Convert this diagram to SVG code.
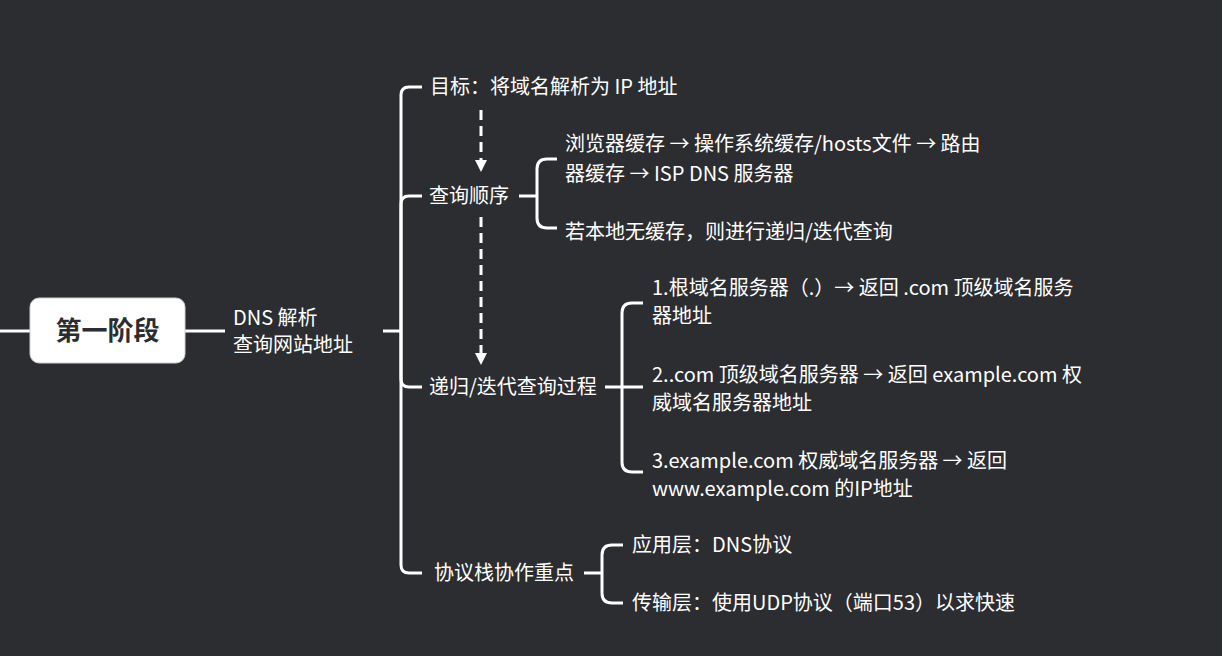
<svg xmlns="http://www.w3.org/2000/svg" width="1222" height="656" viewBox="0 0 1222 656">
<defs>
<style>
.t{font-family:"Noto Sans CJK SC","Microsoft YaHei",sans-serif;font-size:20px;fill:#ffffff}
.c{fill:none;stroke:#ffffff;stroke-width:3;stroke-linecap:butt;stroke-linejoin:round}
.d{fill:none;stroke:#ffffff;stroke-width:3;stroke-dasharray:10 6}
.root{font-family:"Noto Sans CJK SC","Microsoft YaHei",sans-serif;font-size:26px;font-weight:bold;fill:#2c2d31}
</style>
<marker id="ah" markerUnits="userSpaceOnUse" markerWidth="12" markerHeight="12" viewBox="0 0 12 12" refX="0" refY="6" orient="auto">
<path d="M0,0 L12,6 L0,12 z" fill="#ffffff"/>
</marker>
</defs>
<rect x="0" y="0" width="1222" height="656" fill="#2c2d31"/>
<g id="connectors">
<path class="c" d="M0,331 H32"/>
<path class="c" d="M184,331 H225"/>
<path class="c" d="M383,331 H401"/>
<path class="c" d="M401,331 V95 Q401,87 409,87 H422"/>
<path class="c" d="M401,331 V204 Q401,196 409,196 H422"/>
<path class="c" d="M401,331 V379 Q401,387 409,387 H422"/>
<path class="c" d="M401,331 V565 Q401,573 409,573 H422"/>
<path class="c" d="M519,196 H537 M537,196 V169 Q537,159 547,159 H557 M537,196 V218 Q537,228 547,228 H557"/>
<path class="c" d="M605,387 H643 M622,387 V313 Q622,303 632,303 H643 M622,387 V462 Q622,472 632,472 H643"/>
<path class="c" d="M584,573 H602 M602,573 V555 Q602,545 612,545 H623 M602,573 V593 Q602,603 612,603 H623"/>
<path class="d" d="M481,110 V160" marker-end="url(#ah)"/>
<path class="d" d="M481,217 V353" marker-end="url(#ah)"/>
</g>
<g id="root">
<rect x="30" y="298" width="155" height="65" rx="9" fill="#ffffff" stroke="#cfcfcf" stroke-width="1"/>
<text class="root" x="107.5" y="340" text-anchor="middle">第一阶段</text>
</g>
<g id="dns">
<text class="t" x="233" y="325">DNS 解析</text>
<text class="t" x="233" y="352">查询网站地址</text>
</g>
<g id="goal"><text class="t" x="430" y="94">目标：将域名解析为 IP 地址</text></g>
<g id="order"><text class="t" x="429" y="203">查询顺序</text></g>
<g id="order1">
<text class="t" x="565" y="151">浏览器缓存 → 操作系统缓存/hosts文件 → 路由</text>
<text class="t" x="565" y="181">器缓存 → ISP DNS 服务器</text>
</g>
<g id="order2"><text class="t" x="565" y="239">若本地无缓存，则进行递归/迭代查询</text></g>
<g id="recursive"><text class="t" x="429" y="394">递归/迭代查询过程</text></g>
<g id="rec1">
<text class="t" x="652" y="295">1.根域名服务器（.）→ 返回 .com 顶级域名服务</text>
<text class="t" x="652" y="323">器地址</text>
</g>
<g id="rec2">
<text class="t" x="652" y="382">2..com 顶级域名服务器 → 返回 example.com 权</text>
<text class="t" x="652" y="410">威域名服务器地址</text>
</g>
<g id="rec3">
<text class="t" x="652" y="468">3.example.com 权威域名服务器 → 返回</text>
<text class="t" x="652" y="496">www.example.com 的IP地址</text>
</g>
<g id="stack"><text class="t" x="434" y="580">协议栈协作重点</text></g>
<g id="app"><text class="t" x="632" y="552">应用层：DNS协议</text></g>
<g id="transport"><text class="t" x="632" y="610">传输层：使用UDP协议（端口53）以求快速</text></g>
</svg>
